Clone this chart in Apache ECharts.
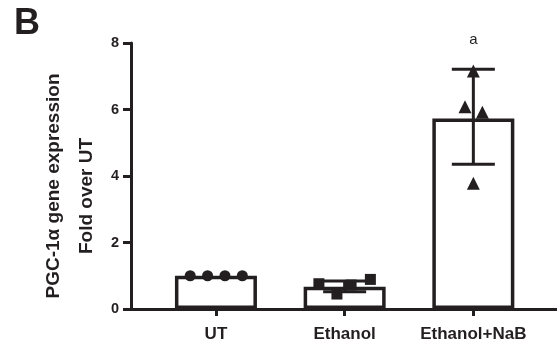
<!DOCTYPE html>
<html>
<head>
<meta charset="utf-8">
<script src="https://cdn.jsdelivr.net/npm/echarts@6/dist/echarts.min.js"></script>
<style>
  html, body { margin: 0; padding: 0; background: #fff; }
  #chart { width: 557px; height: 353px; }
</style>
</head>
<body>
<div id="chart"></div>
<script>
// PGC-1α expression, fold change over untreated
const categories = ['UT', 'Ethanol', 'Ethanol+NaB'];
const means = [1.0, 0.67, 5.73];
const sdLow = [1.0, 0.52, 4.35];
const sdHigh = [1.0, 0.84, 7.21];
const utPoints = [1.0, 1.0, 1.0, 1.0];
const ethanolPoints = [0.76, 0.45, 0.72, 0.89];
const nabPoints = [7.16, 6.08, 5.92, 3.78];
const yTicks = [0, 2, 4, 6, 8];
const significance = ['', '', 'a'];

// horizontal spread of replicate markers within a bar
const spreadUT = [-0.2, -0.065, 0.07, 0.205];
const spreadEth = [-0.2, -0.06, 0.05, 0.2];
const spreadNaB = [0.0, -0.065, 0.07, 0.0];

const ink = '#231f20';
const font = '"Liberation Sans", Arial, sans-serif';
const chart = echarts.init(document.getElementById('chart'));

function pts(ci, vals, spread) {
  return vals.map((v, i) => [ci + spread[i], v]);
}

const option = {
  animation: false,
  backgroundColor: '#fff',
  grid: { left: 131, right: 0, top: 43, bottom: 44 },
  xAxis: {
    type: 'value',
    min: -0.66,
    max: 2.65,
    splitLine: { show: false },
    axisLine: { show: true, onZero: false, lineStyle: { color: ink, width: 3 } },
    axisTick: { show: true, customValues: [0, 1, 2], length: 7, lineStyle: { color: ink, width: 3 } },
    axisLabel: {
      customValues: [0, 1, 2],
      formatter: v => categories[Math.round(v)] || '',
      color: ink, fontFamily: font,
      fontWeight: 'bold', fontSize: 17, margin: 17
    }
  },
  yAxis: {
    type: 'value',
    min: yTicks[0],
    max: yTicks[yTicks.length - 1],
    interval: 2,
    splitLine: { show: false },
    axisLine: { show: true, onZero: false, lineStyle: { color: ink, width: 3 } },
    axisTick: { show: true, length: 8, lineStyle: { color: ink, width: 3 } },
    axisLabel: {
      color: ink, fontFamily: font,
      fontWeight: 'bold', fontSize: 14.5, margin: 12
    }
  },
  series: [
    {
      type: 'bar',
      barWidth: 82,
      data: means.map((m, i) => [i, m]),
      itemStyle: { color: '#fff', borderColor: ink, borderWidth: 3.5 },
      z: 2
    },
    {
      type: 'custom',
      data: means.map((m, i) => [i, sdLow[i], sdHigh[i]]),
      z: 3,
      renderItem: function (params, api) {
        const lo = api.coord([api.value(0), api.value(1)]);
        const hi = api.coord([api.value(0), api.value(2)]);
        if (Math.abs(hi[1] - lo[1]) < 0.5) return null;
        const half = 21.5;
        const st = { stroke: ink, lineWidth: 3 };
        return {
          type: 'group',
          children: [
            { type: 'line', shape: { x1: lo[0], y1: lo[1], x2: hi[0], y2: hi[1] }, style: st },
            { type: 'line', shape: { x1: lo[0] - half, y1: lo[1], x2: lo[0] + half, y2: lo[1] }, style: st },
            { type: 'line', shape: { x1: hi[0] - half, y1: hi[1], x2: hi[0] + half, y2: hi[1] }, style: st }
          ]
        };
      }
    },
    {
      type: 'scatter', symbol: 'circle', symbolSize: 11, z: 4,
      itemStyle: { color: ink, opacity: 1 },
      data: pts(0, utPoints, spreadUT)
    },
    {
      type: 'scatter', symbol: 'rect', symbolSize: 11, z: 4,
      itemStyle: { color: ink, opacity: 1 },
      data: pts(1, ethanolPoints, spreadEth)
    },
    {
      type: 'scatter', symbol: 'triangle', symbolSize: 13, z: 4,
      itemStyle: { color: ink, opacity: 1 },
      data: pts(2, nabPoints, spreadNaB)
    }
  ]
};
chart.setOption(option);

// panel letter, two-line axis title and significance marks
const graphics = [
  {
    type: 'text', x: 14, y: 6,
    style: { text: 'B', fill: ink, font: 'bold 36px ' + font, textVerticalAlign: 'top' }
  },
  {
    type: 'text', x: 54, y: 186, rotation: Math.PI / 2,
    style: { text: 'PGC-1α gene expression', fill: ink, font: 'bold 19px ' + font, textAlign: 'center', textVerticalAlign: 'middle' }
  },
  {
    type: 'text', x: 87, y: 196, rotation: Math.PI / 2,
    style: { text: 'Fold over UT', fill: ink, font: 'bold 19px ' + font, textAlign: 'center', textVerticalAlign: 'middle' }
  }
];
significance.forEach((s, i) => {
  if (!s) return;
  const p = chart.convertToPixel({ gridIndex: 0 }, [i, sdHigh[i]]);
  graphics.push({
    type: 'text', x: p[0], y: 40,
    style: { text: s, fill: ink, font: '15px ' + font, textAlign: 'center', textVerticalAlign: 'middle' }
  });
});
chart.setOption({ graphic: graphics });
</script>
</body>
</html>
